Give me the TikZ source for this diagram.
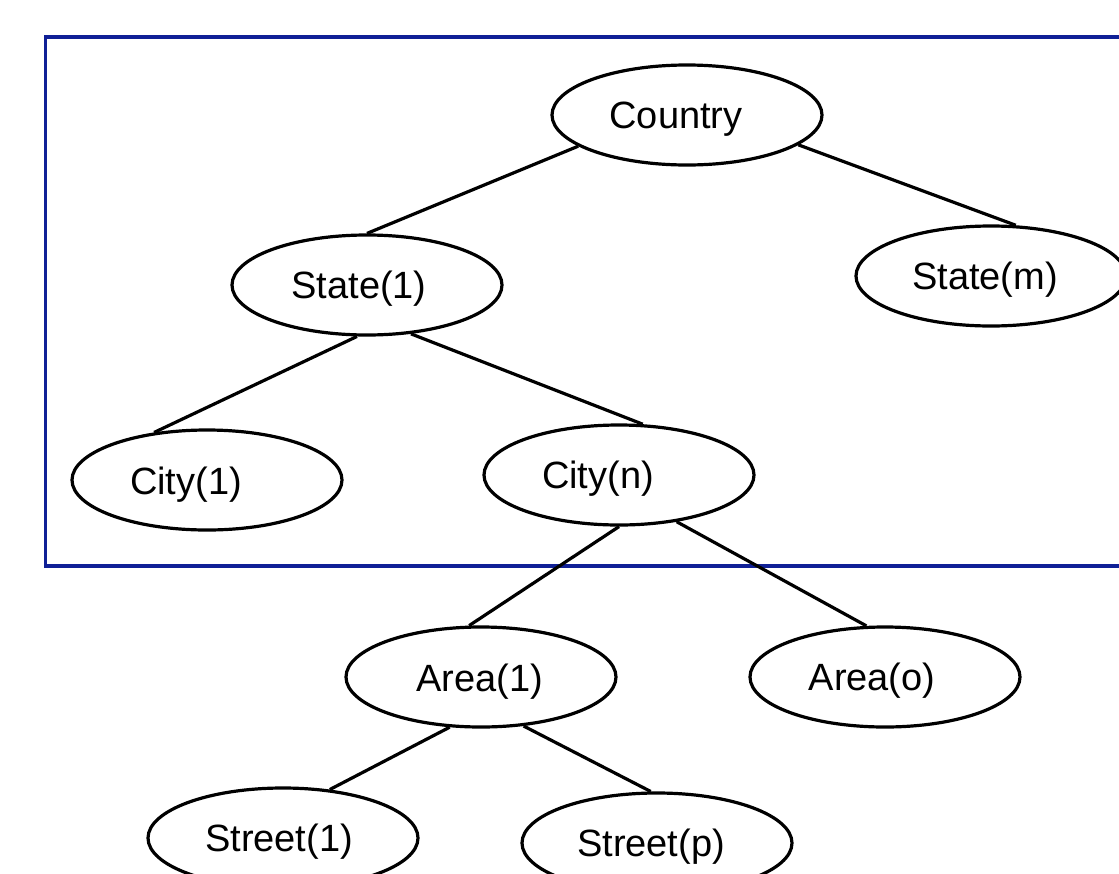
\documentclass[tikz,border=0pt]{standalone}
\usepackage{fontspec}
\setmainfont{Liberation Sans}
\usetikzlibrary{shapes.geometric}
\definecolor{frameblue}{RGB}{16,32,150}
\begin{document}
\begin{tikzpicture}[x=0.5pt,y=-0.5pt,
  ell/.style={draw=black,line width=1.6pt,ellipse,minimum width=135pt,minimum height=50pt,inner sep=0pt},
  txt/.style={font=\fontsize{19}{22}\selectfont,inner sep=0pt,text height=13.7pt,text depth=4pt},
  link/.style={draw=black,line width=1.6pt},
  frame/.style={draw=frameblue,line width=1.6pt}]
\useasboundingbox (0,0) rectangle (1119,873);
\clip (0,0) rectangle (1119,873);
\draw[frame] (45.5,37) rectangle (1140,566);
\node[ell,label={[txt,shift={(-11,4)}]center:Country}] (country) at (687,115) {};
\node[ell,label={[txt,shift={(-8,4)}]center:State(1)}] (state1) at (367,285) {};
\node[ell,label={[txt,shift={(-6,4)}]center:State(m)}] (statem) at (991,276) {};
\node[ell,label={[txt,shift={(-21,5)}]center:City(1)}] (city1) at (207,480) {};
\node[ell,label={[txt,shift={(-21,4)}]center:City(n)}] (cityn) at (619,475) {};
\node[ell,label={[txt,shift={(-1,5)}]center:Area(1)}] (area1) at (481,677) {};
\node[ell,label={[txt,shift={(-13,4)}]center:Area(o)}] (areao) at (885,677) {};
\node[ell,label={[txt,shift={(-4,4)}]center:Street(1)}] (street1) at (283,838) {};
\node[ell,label={[txt,shift={(-6,4)}]center:Street(p)}] (streetp) at (657,843) {};
\draw[link] (country.196.6) -- (state1.90);
\draw[link] (country.345) -- (statem.64.4);
\draw[link] (state1.259) -- (city1.138);
\draw[link] (state1.312) -- (cityn.65);
\draw[link] (cityn.270) -- (area1.103);
\draw[link] (cityn.321) -- (areao.110);
\draw[link] (area1.238) -- (street1.46);
\draw[link] (area1.311.4) -- (streetp.97.8);
\end{tikzpicture}
\end{document}
